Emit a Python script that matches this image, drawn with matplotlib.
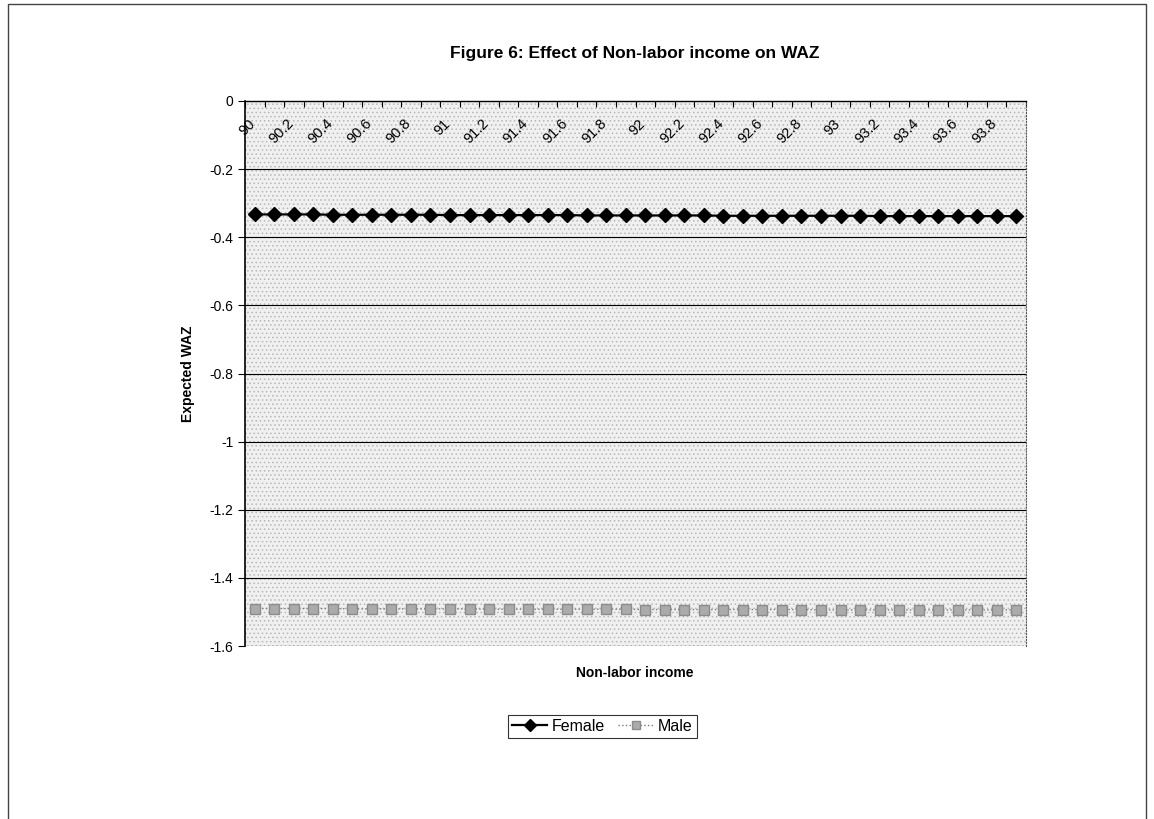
import matplotlib
matplotlib.use('Agg')
import matplotlib.pyplot as plt
import matplotlib.transforms as mtransforms
from matplotlib.patches import Rectangle
from matplotlib.lines import Line2D

plt.rcParams['font.family'] = ['Liberation Sans', 'DejaVu Sans']
plt.rcParams['hatch.linewidth'] = 0.6

# Non-labor income categories (90.0 .. 93.9)
income = ['90', '90.1', '90.2', '90.3', '90.4', '90.5', '90.6', '90.7', '90.8', '90.9',
          '91', '91.1', '91.2', '91.3', '91.4', '91.5', '91.6', '91.7', '91.8', '91.9',
          '92', '92.1', '92.2', '92.3', '92.4', '92.5', '92.6', '92.7', '92.8', '92.9',
          '93', '93.1', '93.2', '93.3', '93.4', '93.5', '93.6', '93.7', '93.8', '93.9']

# Expected WAZ
female = [-0.333, -0.333, -0.333, -0.333, -0.334, -0.334, -0.334, -0.334, -0.334, -0.334,
          -0.335, -0.335, -0.335, -0.335, -0.335, -0.335, -0.335, -0.336, -0.336, -0.336,
          -0.336, -0.336, -0.336, -0.336, -0.337, -0.337, -0.337, -0.337, -0.337, -0.337,
          -0.337, -0.337, -0.338, -0.338, -0.338, -0.338, -0.338, -0.338, -0.338, -0.338]
male = [-1.490, -1.490, -1.490, -1.490, -1.490, -1.491, -1.491, -1.491, -1.491, -1.491,
        -1.491, -1.491, -1.492, -1.492, -1.492, -1.492, -1.492, -1.492, -1.492, -1.492,
        -1.493, -1.493, -1.493, -1.493, -1.493, -1.493, -1.493, -1.493, -1.493, -1.494,
        -1.494, -1.494, -1.494, -1.494, -1.494, -1.494, -1.494, -1.494, -1.494, -1.494]

yticks = [0, -0.2, -0.4, -0.6, -0.8, -1, -1.2, -1.4, -1.6]
ytick_labels = ['0', '-0.2', '-0.4', '-0.6', '-0.8', '-1', '-1.2', '-1.4', '-1.6']

fig = plt.figure(figsize=(11.54, 8.19), dpi=100)
ax = fig.add_axes([0.2123, 0.2112, 0.6768, 0.6655])

# stippled grey plot area
ax.set_facecolor('#f0f0f0')
ax.add_patch(Rectangle((0, 0), 1, 1, transform=ax.transAxes, facecolor='none',
                       edgecolor='#b8b8b8', hatch='....', lw=0, zorder=0))

x = list(range(len(income)))
ax.plot(x, female, color='black', lw=1.6, marker='D', markersize=7, zorder=3)
ax.plot(x, male, color='#7a7a7a', lw=1.0, ls=':', marker='s', markersize=7.5,
        markerfacecolor='#ababab', markeredgecolor='#8c8c8c', zorder=3)

ax.set_xlim(-0.5, len(income) - 0.5)
ax.set_ylim(-1.6, 0)

for v in yticks[1:]:
    ax.axhline(v, color='black', lw=0.8, zorder=1)

# category axis crosses at 0 (top of the plot)
ax.spines['bottom'].set_position(('data', 0))
ax.spines['bottom'].set_linewidth(1.0)
ax.spines['left'].set_linewidth(1.2)
ax.spines['top'].set_visible(False)
ax.spines['right'].set_color('#555555')
ax.spines['right'].set_linestyle(':')

ax.set_xticks(x[::2])
ax.set_xticklabels(income[::2], fontsize=10.5)
ax.set_xticks([i - 0.5 for i in range(len(income) + 1)], minor=True)
ax.tick_params(axis='x', which='major', length=0, pad=11)
ax.tick_params(axis='x', which='minor', length=4, direction='out', width=0.8)
shift = mtransforms.ScaledTranslation(-7 / 100, 0, fig.dpi_scale_trans)
for lab in ax.get_xticklabels():
    lab.set_rotation(45)
    lab.set_ha('right')
    lab.set_rotation_mode('anchor')
    lab.set_transform(lab.get_transform() + shift)

ax.set_yticks(yticks)
ax.set_yticklabels(ytick_labels, fontsize=10)
ax.tick_params(axis='y', length=5, width=0.8)

ax.set_ylabel('Expected WAZ', fontsize=10, fontweight='bold', labelpad=10)
fig.text(0.5503, 0.178, 'Non-labor income', fontsize=10, fontweight='bold',
         ha='center', va='center')
fig.text(0.5503, 0.935, 'Figure 6: Effect of Non-labor income on WAZ', fontsize=12.5,
         fontweight='bold', ha='center', va='center')

handles = [Line2D([], [], color='black', lw=1.6, marker='D', markersize=6),
           Line2D([], [], color='#7a7a7a', lw=1.0, ls=':', marker='s', markersize=6,
                  markerfacecolor='#ababab', markeredgecolor='#8c8c8c')]
leg = fig.legend(handles, ['Female', 'Male'], loc='center', bbox_to_anchor=(0.522, 0.113),
                 ncol=2, fontsize=11.5, frameon=True, fancybox=False, edgecolor='black',
                 handlelength=2.2, handletextpad=0.3, columnspacing=0.8,
                 borderpad=0.25)
leg.get_frame().set_linewidth(0.8)

# outer chart border
fig.add_artist(Rectangle((0.007, -0.05), 0.986, 1.045, transform=fig.transFigure,
                         facecolor='none', edgecolor='#444444', lw=1.0))

fig.savefig('out.png', dpi=100)
